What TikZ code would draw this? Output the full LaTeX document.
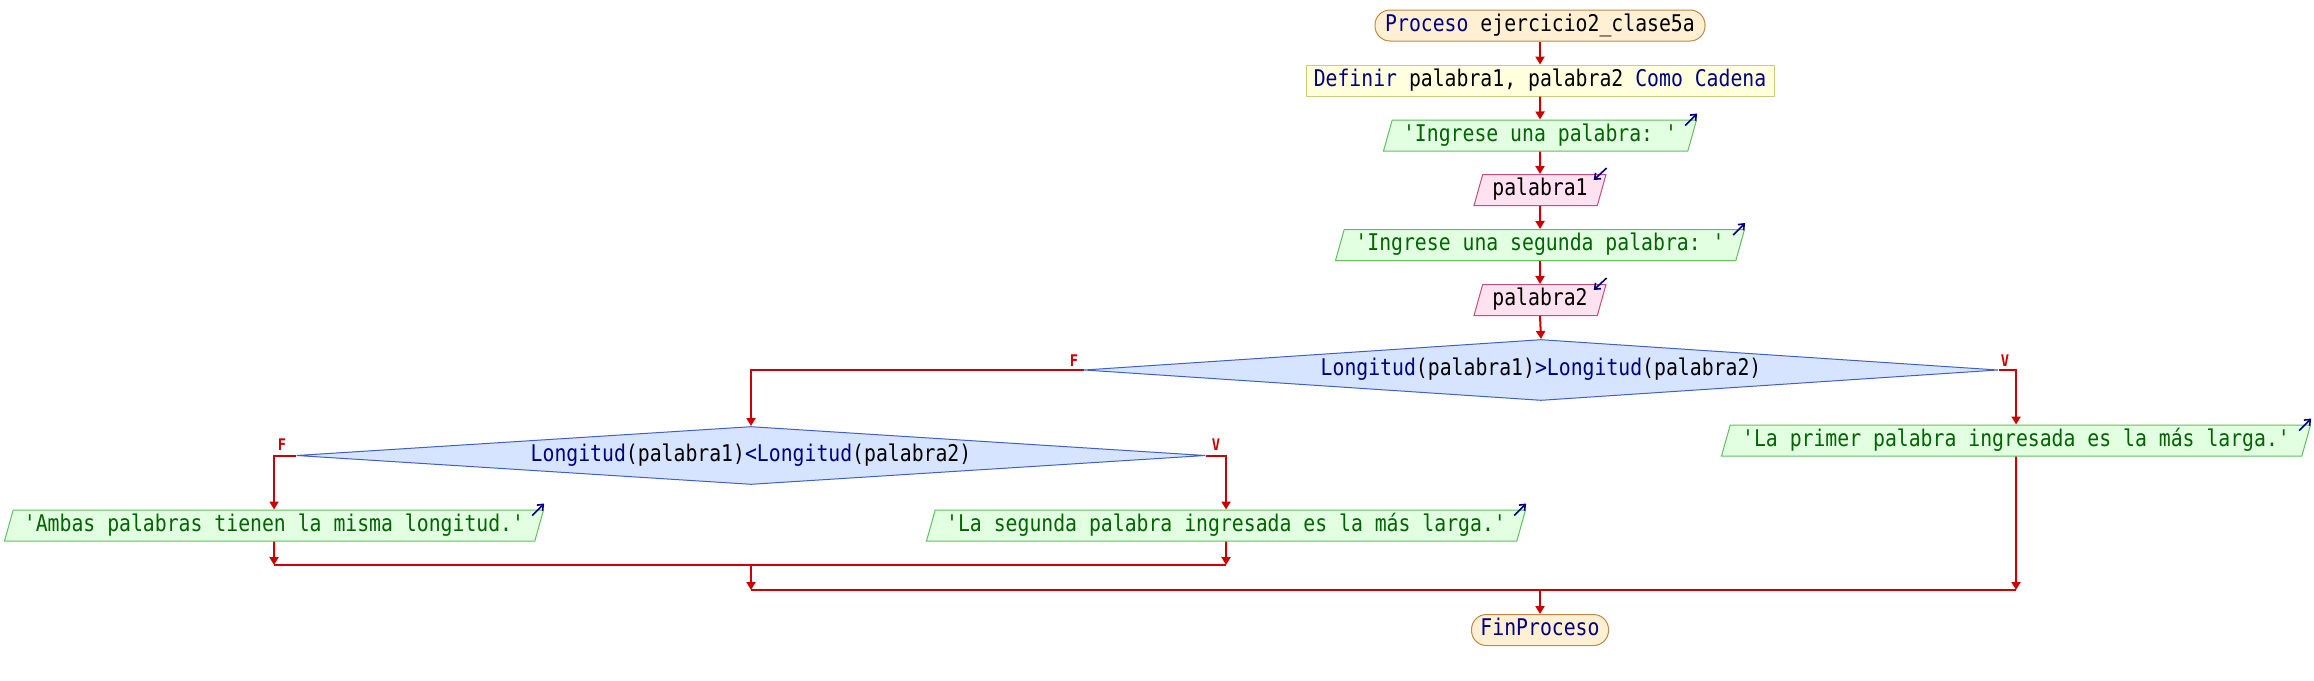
\documentclass[tikz,border=0pt]{standalone}
\usepackage{fontspec}
\setmonofont{DejaVu Sans Mono}[FakeStretch=0.86]
\usetikzlibrary{shapes.geometric,arrows.meta}
\definecolor{lnred}{RGB}{204,0,0}
\definecolor{kw}{RGB}{0,0,128}
\definecolor{termfill}{RGB}{255,240,212}
\definecolor{termdraw}{RGB}{192,136,64}
\definecolor{deffill}{RGB}{255,255,221}
\definecolor{defdraw}{RGB}{204,204,128}
\definecolor{outfill}{RGB}{226,255,226}
\definecolor{outdraw}{RGB}{96,192,96}
\definecolor{outtext}{RGB}{0,100,0}
\definecolor{infill}{RGB}{255,226,240}
\definecolor{indraw}{RGB}{192,80,128}
\definecolor{decfill}{RGB}{214,228,255}
\definecolor{decdraw}{RGB}{64,96,200}
\tikzset{
  basebox/.style={font=\ttfamily\fontsize{23}{27}\selectfont, text height=16.5pt, text depth=5pt, inner sep=0pt, line width=1pt},
  term/.style={basebox, rectangle, rounded corners=15pt, draw=termdraw, fill=termfill, minimum height=31pt},
  defbox/.style={basebox, rectangle, draw=defdraw, fill=deffill, minimum height=31pt},
  iobox/.style={basebox, trapezium, trapezium left angle=68, trapezium right angle=112, trapezium stretches body=true, minimum height=31pt, inner xsep=4pt},
  outbox/.style={iobox, draw=outdraw, fill=outfill, text=outtext},
  inbox/.style={iobox, draw=indraw, fill=infill, text=black},
  decbox/.style={basebox, diamond, shape aspect=15, draw=decdraw, fill=decfill},
  flowarrow/.style={draw=lnred, line width=2pt, -{Triangle[length=8pt,width=9pt]}},
  flowline/.style={draw=lnred, line width=2pt},
  ioicon/.style={draw=kw, line width=1.6pt, -{Straight Barb[length=5pt,width=8pt]}},
  tflabel/.style={text=lnred, font=\ttfamily\bfseries\fontsize{16}{18}\selectfont, inner sep=0pt},
}
\begin{document}
\begin{tikzpicture}[x=1pt,y=-1pt]
\path[use as bounding box, fill=white] (0,0) rectangle (2314,680);

\node[term, minimum width=330pt] (p0) at (1540,25.5) {\textcolor{kw}{Proceso} ejercicio2\_clase5a};
\node[defbox, minimum width=468pt] (def) at (1540,80.5) {\textcolor{kw}{Definir} palabra1, palabra2 \textcolor{kw}{Como Cadena}};
\node[outbox, minimum width=313pt] (o1) at (1540,135.5) {'Ingrese una palabra: '};
\node[inbox, minimum width=132pt] (i1) at (1540,190) {palabra1};
\node[outbox, minimum width=409pt] (o2) at (1540,245) {'Ingrese una segunda palabra: '};
\node[inbox, minimum width=132pt] (i2) at (1540,300) {palabra2};
\node[decbox, minimum width=914pt, minimum height=61pt] (d1) at (1541,370) {\textcolor{kw}{Longitud}(palabra1)\textcolor{kw}{>Longitud}(palabra2)};
\node[outbox, minimum width=589pt] (o3) at (2016,440.5) {'La primer palabra ingresada es la más larga.'};
\node[decbox, minimum width=909pt, minimum height=58pt] (d2) at (751,455.5) {\textcolor{kw}{Longitud}(palabra1)\textcolor{kw}{<Longitud}(palabra2)};
\node[outbox, minimum width=539pt] (o4) at (274,525.5) {'Ambas palabras tienen la misma longitud.'};
\node[outbox, minimum width=599pt] (o5) at (1226,525.5) {'La segunda palabra ingresada es la más larga.'};
\node[term, minimum width=137pt] (fin) at (1540,630) {\textcolor{kw}{FinProceso}};

\node[tflabel] (lf1) at (1074,361) {F};
\node[tflabel] (lv1) at (2005,361) {V};
\node[tflabel] (lf2) at (282,445) {F};
\node[tflabel] (lv2) at (1216,445) {V};

\coordinate (m1L) at (274,565);
\coordinate (m1R) at (1226,565);
\coordinate (m1C) at (751,565);
\coordinate (m2L) at (751,590);
\coordinate (m2R) at (2016,590);
\coordinate (m2C) at (1540,590);

\draw[flowarrow] (p0.south) -- (def.north);
\draw[flowarrow] (def.south) -- (o1.north);
\draw[flowarrow] (o1.south) -- (i1.north);
\draw[flowarrow] (i1.south) -- (o2.north);
\draw[flowarrow] (o2.south) -- (i2.north);
\draw[flowarrow] (i2.south) -- (d1.north);
\draw[flowarrow] (d1.west) -| (d2.north);
\draw[flowarrow] (d1.east) -| (o3.north);
\draw[flowarrow] (d2.west) -| (o4.north);
\draw[flowarrow] (d2.east) -| (o5.north);
\draw[flowarrow] (o4.south) -- (m1L);
\draw[flowarrow] (o5.south) -- (m1R);
\draw[flowline] (m1L) -- (m1R);
\draw[flowarrow] (m1C) -- (m2L);
\draw[flowarrow] (o3.south) -- (m2R);
\draw[flowline] (m2L) -- (m2R);
\draw[flowarrow] (m2C) -- (fin.north);

\draw[ioicon] ([xshift=-12pt,yshift=-6pt]o1.top right corner) -- ([yshift=6pt]o1.top right corner);
\draw[ioicon] ([xshift=-12pt,yshift=-6pt]o2.top right corner) -- ([yshift=6pt]o2.top right corner);
\draw[ioicon] ([xshift=-12pt,yshift=-6pt]o3.top right corner) -- ([yshift=6pt]o3.top right corner);
\draw[ioicon] ([xshift=-12pt,yshift=-6pt]o4.top right corner) -- ([yshift=6pt]o4.top right corner);
\draw[ioicon] ([xshift=-12pt,yshift=-6pt]o5.top right corner) -- ([yshift=6pt]o5.top right corner);
\draw[ioicon] ([yshift=6pt]i1.top right corner) -- ([xshift=-13pt,yshift=-6pt]i1.top right corner);
\draw[ioicon] ([yshift=6pt]i2.top right corner) -- ([xshift=-13pt,yshift=-6pt]i2.top right corner);
\end{tikzpicture}
\end{document}
